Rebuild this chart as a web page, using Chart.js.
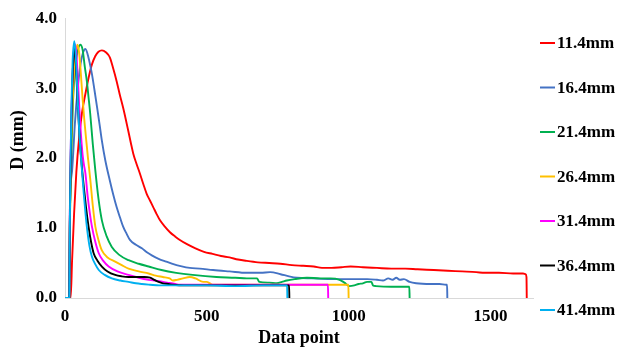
<!DOCTYPE html>
<html lang="en">
<head>
    <meta charset="UTF-8">
    <title>D vs Data point</title>
    <script src="https://cdn.jsdelivr.net/npm/chart.js"></script>
    <style>
        html, body { margin: 0; padding: 0; background: #fff; }
        #wrap { width: 622px; height: 347px; }
    </style>
</head>
<body>
    <div id="wrap"><canvas id="dChart" width="622" height="347"></canvas></div>

    <script>
        // series names (legend)
        const seriesLabels = ["11.4mm", "16.4mm", "21.4mm", "26.4mm", "31.4mm", "36.4mm", "41.4mm"];
        const xTickValues = [0, 500, 1000, 1500];
        const yTickValues = [0, 1, 2, 3, 4];

        // 11.4mm
        const x114 = [0, 20, 25, 32, 40, 50, 60, 72, 85, 95, 107, 118, 130, 145, 158, 170, 182, 193, 205, 214, 223, 232, 241, 252, 264, 276, 288, 300, 311, 323, 335, 352, 370, 388, 405, 430, 460, 490, 520, 550, 580, 610, 641, 680, 720, 759, 800, 840, 877, 906, 940, 975, 1007, 1050, 1100, 1150, 1200, 1243, 1300, 1350, 1400, 1450, 1480, 1530, 1580, 1615, 1624, 1627, 1628];
        const d114 = [0, 0, 0.54, 1.2, 1.8, 2.3, 2.65, 2.92, 3.18, 3.34, 3.46, 3.52, 3.54, 3.51, 3.44, 3.28, 3.10, 2.91, 2.72, 2.56, 2.39, 2.22, 2.06, 1.92, 1.78, 1.63, 1.49, 1.39, 1.30, 1.20, 1.11, 1.02, 0.94, 0.88, 0.83, 0.77, 0.71, 0.66, 0.63, 0.60, 0.58, 0.55, 0.53, 0.51, 0.50, 0.49, 0.47, 0.46, 0.45, 0.43, 0.43, 0.44, 0.45, 0.44, 0.43, 0.42, 0.42, 0.41, 0.40, 0.39, 0.38, 0.37, 0.36, 0.36, 0.35, 0.35, 0.34, 0.30, 0];

        // 16.4mm
        const x164 = [0, 15, 17, 25, 35, 45, 55, 63, 72, 82, 95, 104, 113, 122, 130, 142, 158, 170, 182, 194, 205, 217, 229, 250, 271, 290, 306, 330, 357, 385, 404, 440, 475, 522, 580, 641, 690, 723, 760, 790, 818, 870, 936, 1000, 1043, 1066, 1100, 1121, 1140, 1155, 1168, 1180, 1195, 1215, 1238, 1290, 1320, 1344, 1347, 1348];
        const d164 = [0, 0, 1.2, 1.82, 2.5, 3.0, 3.35, 3.5, 3.56, 3.45, 3.2, 2.97, 2.73, 2.48, 2.25, 1.97, 1.68, 1.48, 1.30, 1.15, 1.02, 0.92, 0.83, 0.76, 0.71, 0.65, 0.61, 0.56, 0.52, 0.48, 0.46, 0.43, 0.42, 0.40, 0.38, 0.36, 0.36, 0.37, 0.34, 0.31, 0.29, 0.28, 0.27, 0.27, 0.27, 0.27, 0.26, 0.25, 0.28, 0.26, 0.29, 0.26, 0.27, 0.23, 0.21, 0.20, 0.20, 0.19, 0.19, 0];

        // 21.4mm
        const x214 = [0, 15, 17, 22, 28, 36, 44, 54, 62, 70, 77, 83, 89, 98, 107, 118, 130, 147, 165, 190, 224, 260, 295, 340, 392, 450, 534, 600, 641, 677, 685, 720, 747, 765, 782, 810, 853, 900, 936, 968, 985, 1003, 1020, 1035, 1050, 1065, 1080, 1086, 1096, 1150, 1212, 1214, 1215];
        const d214 = [0, 0, 1.0, 2.0, 2.8, 3.3, 3.52, 3.62, 3.55, 3.3, 3.1, 2.87, 2.63, 2.2, 1.82, 1.42, 1.11, 0.88, 0.73, 0.62, 0.54, 0.49, 0.45, 0.40, 0.36, 0.33, 0.30, 0.29, 0.28, 0.28, 0.23, 0.22, 0.21, 0.23, 0.25, 0.27, 0.29, 0.28, 0.28, 0.26, 0.22, 0.17, 0.18, 0.20, 0.21, 0.23, 0.23, 0.18, 0.17, 0.16, 0.16, 0.16, 0];

        // 26.4mm
        const x264 = [0, 15, 17, 22, 30, 38, 44, 50, 56, 62, 68, 75, 81, 89, 98, 107, 118, 130, 150, 177, 200, 224, 260, 295, 320, 345, 369, 380, 395, 416, 440, 460, 487, 499, 515, 522, 600, 700, 800, 900, 997, 999, 1000];
        const d264 = [0, 0, 1.0, 2.2, 3.1, 3.5, 3.62, 3.5, 3.2, 2.85, 2.55, 2.25, 2.0, 1.7, 1.32, 1.02, 0.83, 0.68, 0.58, 0.52, 0.47, 0.42, 0.38, 0.35, 0.32, 0.30, 0.28, 0.25, 0.26, 0.28, 0.30, 0.28, 0.23, 0.23, 0.20, 0.19, 0.19, 0.19, 0.19, 0.19, 0.19, 0.19, 0];

        // 31.4mm
        const x314 = [0, 15, 17, 22, 28, 35, 40, 45, 50, 56, 62, 67, 72, 80, 88, 95, 107, 119, 135, 154, 185, 224, 260, 295, 333, 360, 381, 400, 500, 600, 700, 800, 925, 927, 928];
        const d314 = [0, 0, 1.2, 2.5, 3.3, 3.63, 3.5, 3.15, 2.75, 2.35, 2.05, 1.9, 1.78, 1.45, 1.20, 1.02, 0.80, 0.64, 0.53, 0.45, 0.38, 0.33, 0.29, 0.26, 0.24, 0.22, 0.21, 0.19, 0.19, 0.19, 0.19, 0.19, 0.19, 0.19, 0];

        // 36.4mm
        const x364 = [0, 15, 17, 22, 28, 33, 38, 44, 50, 56, 60, 66, 74, 83, 92, 101, 115, 130, 150, 177, 200, 224, 250, 280, 300, 315, 330, 345, 365, 381, 420, 500, 600, 700, 788, 790, 791];
        const d364 = [0, 0, 1.1, 2.4, 3.3, 3.6, 3.35, 2.85, 2.4, 2.05, 1.85, 1.6, 1.3, 1.02, 0.80, 0.64, 0.53, 0.45, 0.38, 0.33, 0.31, 0.30, 0.30, 0.30, 0.29, 0.26, 0.23, 0.21, 0.20, 0.19, 0.18, 0.18, 0.18, 0.18, 0.18, 0.18, 0];

        // 41.4mm
        const x414 = [0, 15, 16, 19, 23, 27, 33, 38, 44, 50, 57, 66, 72, 77, 86, 95, 107, 119, 140, 165, 195, 224, 250, 271, 300, 333, 360, 400, 500, 600, 700, 781, 783, 784];
        const d414 = [0, 0, 0.6, 1.8, 2.8, 3.4, 3.67, 3.45, 2.9, 2.4, 1.97, 1.5, 1.22, 1.02, 0.75, 0.59, 0.48, 0.40, 0.33, 0.28, 0.25, 0.23, 0.21, 0.20, 0.19, 0.18, 0.18, 0.18, 0.18, 0.17, 0.18, 0.18, 0.18, 0];

        const seriesX = [x114, x164, x214, x264, x314, x364, x414];
        const seriesD = [d114, d164, d214, d264, d314, d364, d414];
        const colors = ["#ff0000", "#4472c4", "#00b050", "#ffc000", "#ff00ff", "#000000", "#00b0f0"];

        const serif = "'Liberation Serif', 'Times New Roman', serif";

        const datasets = seriesLabels.map((label, i) => ({
            label: label,
            data: seriesX[i].map((x, j) => ({ x: x, y: seriesD[i][j] })),
            borderColor: colors[i],
            backgroundColor: colors[i],
            borderWidth: 1.9,
            pointRadius: 0,
            cubicInterpolationMode: "monotone",
            order: seriesLabels.length - 1 - i   // last series drawn on top
        }));

        // legend on the right, one entry per dataset
        const sideLegend = {
            id: "sideLegend",
            afterDraw(chart) {
                const ctx = chart.ctx;
                ctx.save();
                ctx.font = "bold 17px " + serif;
                ctx.textBaseline = "middle";
                ctx.textAlign = "left";
                chart.data.datasets.forEach((ds, i) => {
                    const y = 43 + i * 44.5;
                    ctx.strokeStyle = ds.borderColor;
                    ctx.lineWidth = 2;
                    ctx.beginPath();
                    ctx.moveTo(540, y);
                    ctx.lineTo(555, y);
                    ctx.stroke();
                    ctx.fillStyle = "#000";
                    ctx.fillText(ds.label, 557, y + 1);
                });
                ctx.restore();
            }
        };

        const ctx = document.getElementById("dChart").getContext("2d");
        new Chart(ctx, {
            type: "line",
            data: { datasets: datasets },
            options: {
                responsive: false,
                animation: false,
                layout: { padding: { left: 0, right: 89, top: 17, bottom: 0 } },
                plugins: {
                    legend: { display: false },
                    tooltip: { enabled: false }
                },
                scales: {
                    x: {
                        type: "linear",
                        min: 0,
                        max: 1650,
                        grid: { display: false, drawTicks: false },
                        border: { display: true, color: "#d9d9d9", width: 1 },
                        afterBuildTicks(scale) {
                            scale.ticks = xTickValues.map(v => ({ value: v }));
                        },
                        ticks: {
                            padding: 8,
                            color: "#000",
                            font: { family: serif, size: 17, weight: "bold" },
                            callback: v => String(v)
                        },
                        title: {
                            display: true,
                            text: "Data point",
                            color: "#000",
                            padding: { top: 0, bottom: 0 },
                            font: { family: serif, size: 18, weight: "bold", lineHeight: 1 }
                        },
                        afterFit(scale) { scale.height = 49; }
                    },
                    y: {
                        min: 0,
                        max: 4,
                        grid: { display: false, drawTicks: false },
                        border: { display: true, color: "#d9d9d9", width: 1 },
                        afterBuildTicks(scale) {
                            scale.ticks = yTickValues.map(v => ({ value: v }));
                        },
                        ticks: {
                            padding: 8,
                            color: "#000",
                            font: { family: serif, size: 17, weight: "bold" },
                            callback: v => v.toFixed(1)
                        },
                        title: {
                            display: true,
                            text: "        D (mm)",
                            color: "#000",
                            padding: { top: 9, bottom: 0 },
                            font: { family: serif, size: 18, weight: "bold", lineHeight: 1 }
                        },
                        afterFit(scale) { scale.width = 65; }
                    }
                }
            },
            plugins: [sideLegend]
        });
    </script>
</body>
</html>
